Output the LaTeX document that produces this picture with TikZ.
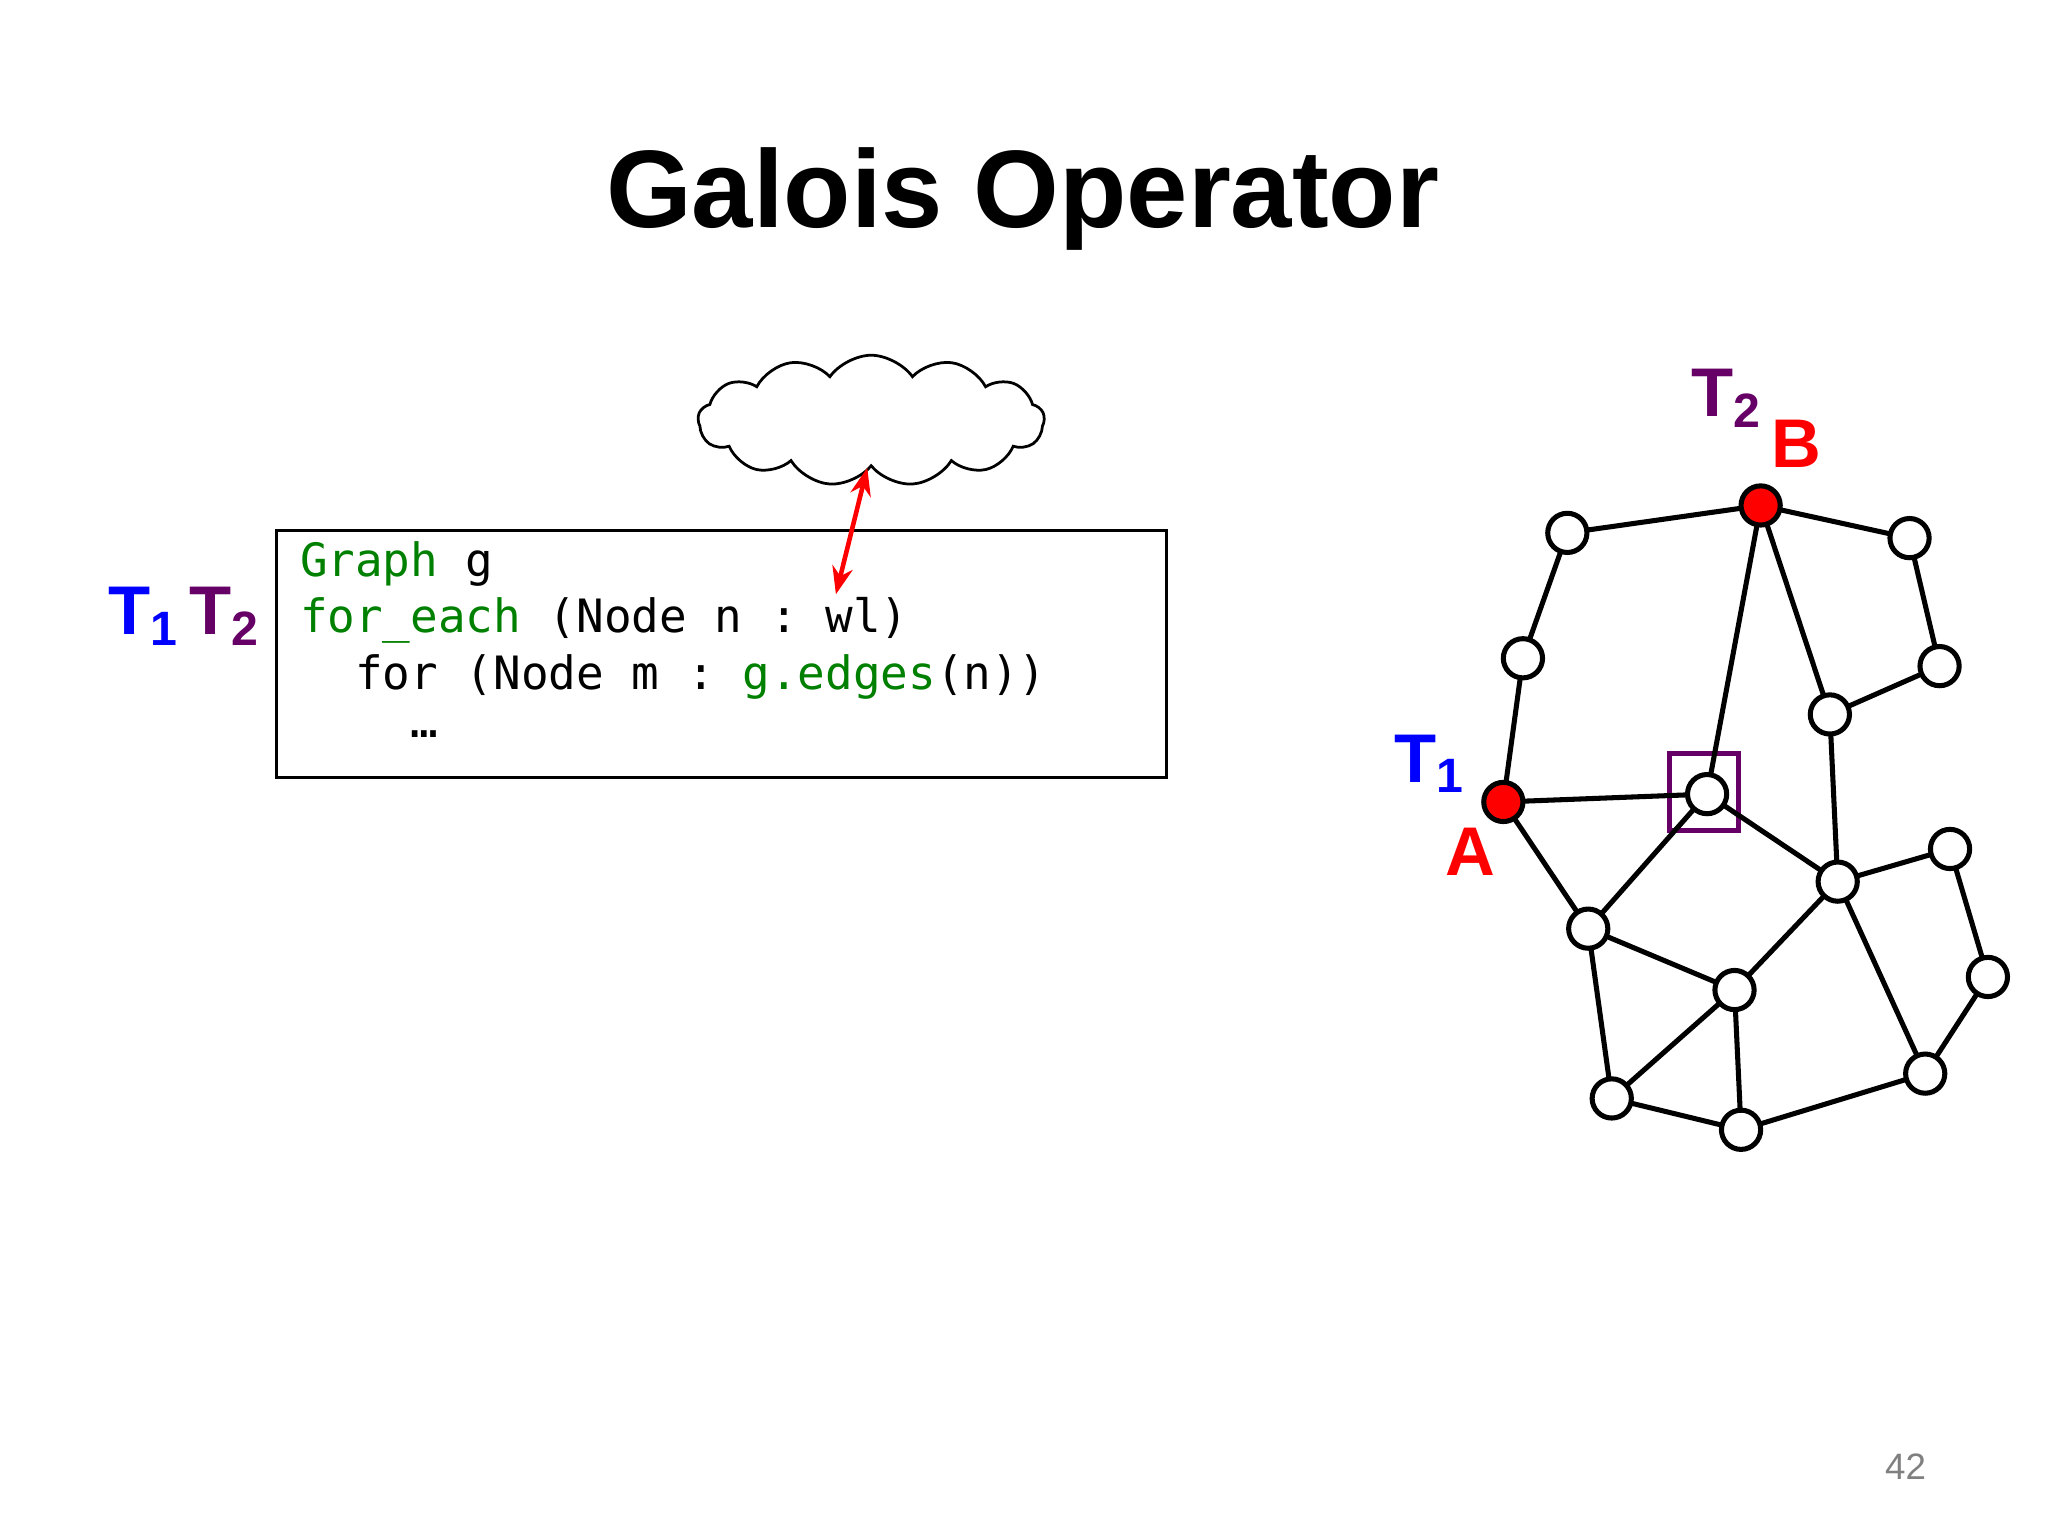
\documentclass[tikz,border=0pt]{standalone}
\usepackage{fontspec}
\setmainfont{Liberation Sans}
\setmonofont{DejaVu Sans Mono}
\usetikzlibrary{shapes.symbols,arrows.meta}
\definecolor{cg}{RGB}{0,128,0}
\definecolor{pur}{RGB}{102,0,102}
\begin{document}
\begin{tikzpicture}[x=0.01cm,y=-0.01cm,
  gn/.style={circle,draw,line width=1.1pt,fill=white,minimum size=0.3cm,inner sep=0pt},
  rn/.style={gn,fill=red},
  ed/.style={line width=1.1pt},
  lab/.style={font=\fontsize{15}{15}\selectfont\bfseries}]
\useasboundingbox (0,0) rectangle (1568,1176);
\node (title) at (783,152) {\fontsize{24}{24}\selectfont\bfseries Galois Operator};
\node[cloud,draw,cloud puffs=13,cloud puff arc=110,aspect=2.6,minimum width=2.65cm,minimum height=1cm,line width=0.6pt] (cloud) at (667,322) {};
\node[draw,line width=0.6pt,minimum width=6.81cm,minimum height=1.89cm] (box) at (552.5,500.5) {};
\begin{scope}[every node/.style={anchor=west,font=\ttfamily\fontsize{10}{10}\selectfont,inner sep=0pt}]
\node (l1) at (229,432) {\textcolor{cg}{Graph} g};
\node (l2) at (229,475) {\textcolor{cg}{for\_each} (Node n : wl)};
\node (l3) at (229,518) {\ \ for (Node m : \textcolor{cg}{g.edges}(n))};
\node (l4) at (229,562) {\ \ \ \ …};
\end{scope}
\coordinate (ae) at (640,455);
\draw[red,line width=1pt,{Stealth[length=6pt]}-{Stealth[length=6pt]}] (cloud.south) ++(-3,0) -- (ae);
\node[lab,blue] (lt1) at (110,472) {T\textsubscript{1}};
\node[lab,pur] (lt2) at (172,472) {T\textsubscript{2}};
\node[gray,font=\fontsize{8}{8}\selectfont] (pg) at (1459,1123) {42};
% graph
\node[draw=pur,line width=1.1pt,minimum width=0.53cm,minimum height=0.59cm] (sq) at (1304.5,606.5) {};
\foreach \n/\x/\y in {n1/1200/408,n2/1462/412,n3/1166/504,n4/1485/510,n5/1401/547,C/1307/608,n6/1407/675,n7/1493/650,n8/1216/711,n9/1328/758,n10/1522/748,n11/1474/822,n12/1234/841,n13/1333/865}
  \coordinate (\n) at (\x,\y);
\coordinate (B) at (1348,387); \coordinate (A) at (1151,614);
\foreach \a/\b in {n1/B,B/n2,n1/n3,n3/A,n2/n4,n4/n5,B/n5,B/C,A/C,A/n8,C/n8,C/n6,n5/n6,n6/n7,n7/n10,n10/n11,n6/n11,n6/n9,n8/n9,n8/n12,n9/n12,n9/n13,n12/n13,n13/n11}
  \draw[ed] (\a) -- (\b);
\foreach \n in {n1,n2,n3,n4,n5,C,n6,n7,n8,n9,n10,n11,n12,n13}
  \node[gn] at (\n) {};
\node[rn] at (A) {}; \node[rn] at (B) {};
\node[lab,pur] (rt2) at (1322,305) {T\textsubscript{2}};
\node[lab,red] (rb) at (1375,340) {B};
\node[lab,blue] (rt1) at (1095,585) {T\textsubscript{1}};
\node[lab,red] (ra) at (1126,652) {A};
\end{tikzpicture}
\end{document}
